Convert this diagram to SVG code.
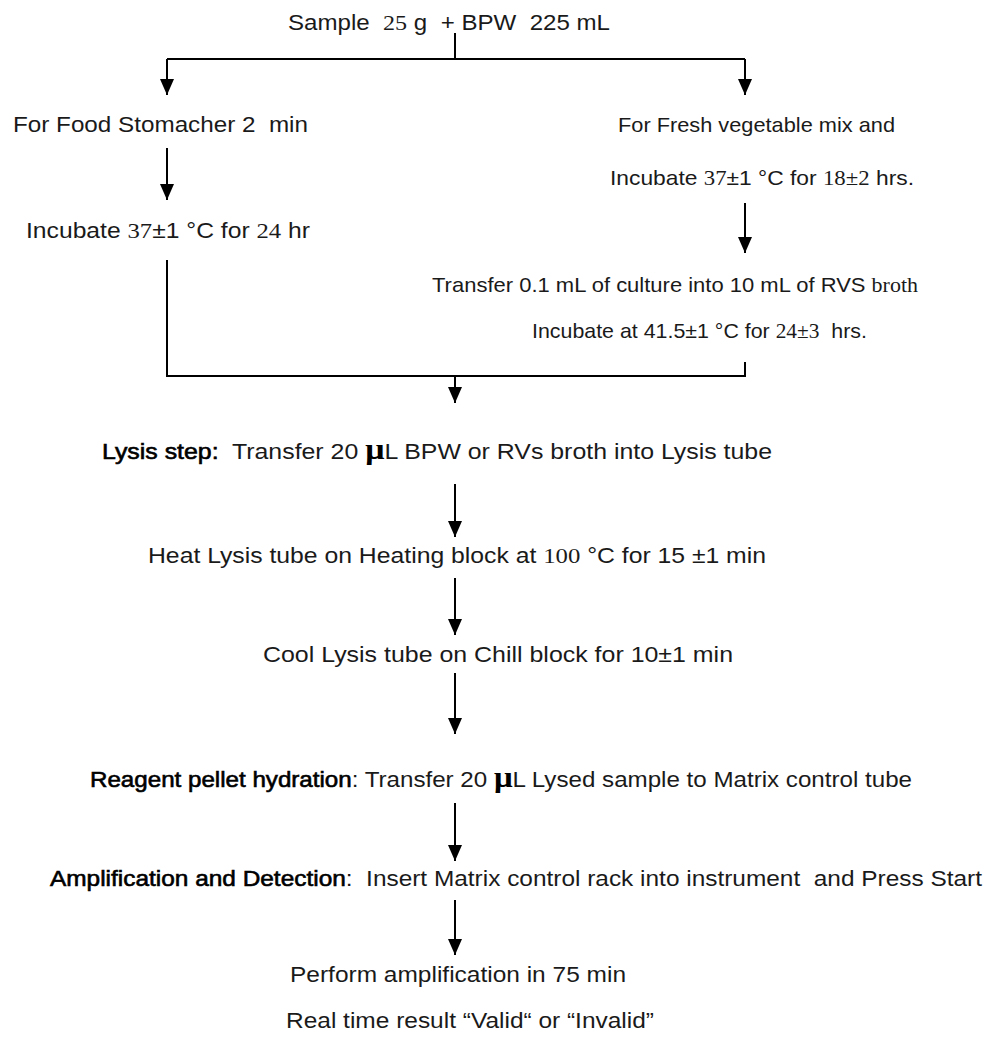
<svg xmlns="http://www.w3.org/2000/svg" width="992" height="1037" viewBox="0 0 992 1037">
<style>
.t{font-family:"Liberation Sans",Arial,sans-serif;font-size:22px;fill:#1a1a1a;white-space:pre}
.r{font-size:21px}
.b{fill:#000;stroke:#000;stroke-width:0.6}
.s{font-family:"Liberation Serif","Times New Roman",serif}
.mu{font-family:"Liberation Serif","Times New Roman",serif;font-size:30px;font-weight:bold;fill:#000}
.ln{stroke:#000;stroke-width:2;fill:none}
.ar{stroke:#000;stroke-width:2;fill:none;marker-end:url(#ah)}
</style>
<defs>
<marker id="ah" viewBox="0 0 16 14" refX="16" refY="7" markerWidth="16" markerHeight="14" markerUnits="userSpaceOnUse" orient="auto">
<path d="M0,0 L16,7 L0,14 Z" fill="#000"/>
</marker>
</defs>
<rect width="992" height="1037" fill="#fff"/>
<g id="connectors">
<path class="ln" d="M455,33 V59"/>
<path class="ln" d="M167,59 H745"/>
<path class="ar" d="M167,59 V95"/>
<path class="ar" d="M745,59 V95"/>
<path class="ar" d="M167,148 V200"/>
<path class="ar" d="M745,203 V253"/>
<path class="ln" d="M167,260 V376"/>
<path class="ln" d="M745,362 V376"/>
<path class="ln" d="M166,376 H746"/>
<path class="ar" d="M455,376 V403"/>
<path class="ar" d="M455,484 V537"/>
<path class="ar" d="M455,578 V635"/>
<path class="ar" d="M455,673 V734"/>
<path class="ar" d="M455,803 V861"/>
<path class="ar" d="M455,900 V955"/>
</g>
<g id="n-sample"><text class="t" x="288" y="30" textLength="322" lengthAdjust="spacingAndGlyphs">Sample  <tspan class="s">25</tspan> g  + BPW  225 mL</text></g>
<g id="n-food"><text class="t" x="13" y="132" textLength="295" lengthAdjust="spacingAndGlyphs">For Food Stomacher 2  min</text></g>
<g id="n-fresh"><text class="t r" x="618" y="132" textLength="277" lengthAdjust="spacingAndGlyphs">For Fresh vegetable mix and</text></g>
<g id="n-inc18"><text class="t r" x="610" y="185" textLength="304" lengthAdjust="spacingAndGlyphs">Incubate <tspan class="s">37</tspan>±1 °C for <tspan class="s">18±2</tspan> hrs.</text></g>
<g id="n-inc24"><text class="t" x="26" y="238" textLength="284" lengthAdjust="spacingAndGlyphs">Incubate <tspan class="s">37</tspan>±1 °C for <tspan class="s">24</tspan> hr</text></g>
<g id="n-transfer"><text class="t r" x="432" y="292" textLength="486" lengthAdjust="spacingAndGlyphs">Transfer 0.1 mL of culture into 10 mL of RVS <tspan class="s">broth</tspan></text></g>
<g id="n-inc415"><text class="t r" x="532" y="338" textLength="335" lengthAdjust="spacingAndGlyphs">Incubate at 41.5±1 °C for <tspan class="s">24±3</tspan>  hrs.</text></g>
<g id="n-lysis"><text class="t" x="102" y="459" textLength="670" lengthAdjust="spacingAndGlyphs"><tspan class="b">Lysis step:</tspan>  Transfer 20 <tspan class="mu">μ</tspan>L BPW or RVs broth into Lysis tube</text></g>
<g id="n-heat"><text class="t" x="148" y="563" textLength="618" lengthAdjust="spacingAndGlyphs">Heat Lysis tube on Heating block at <tspan class="s">100</tspan> °C for 15 ±1 min</text></g>
<g id="n-cool"><text class="t" x="263" y="662" textLength="470" lengthAdjust="spacingAndGlyphs">Cool Lysis tube on Chill block for 10±1 min</text></g>
<g id="n-reagent"><text class="t" x="90" y="787" textLength="822" lengthAdjust="spacingAndGlyphs"><tspan class="b">Reagent pellet hydration</tspan>: Transfer 20 <tspan class="mu">μ</tspan>L Lysed sample to Matrix control tube</text></g>
<g id="n-amp"><text class="t" x="50" y="886" textLength="932" lengthAdjust="spacingAndGlyphs"><tspan class="b">Amplification and Detection</tspan>:  Insert Matrix control rack into instrument  and Press Start</text></g>
<g id="n-perform"><text class="t" x="290" y="982" textLength="336" lengthAdjust="spacingAndGlyphs">Perform amplification in 75 min</text></g>
<g id="n-result"><text class="t" x="286" y="1028" textLength="368" lengthAdjust="spacingAndGlyphs">Real time result “Valid“ or “Invalid”</text></g>
</svg>
